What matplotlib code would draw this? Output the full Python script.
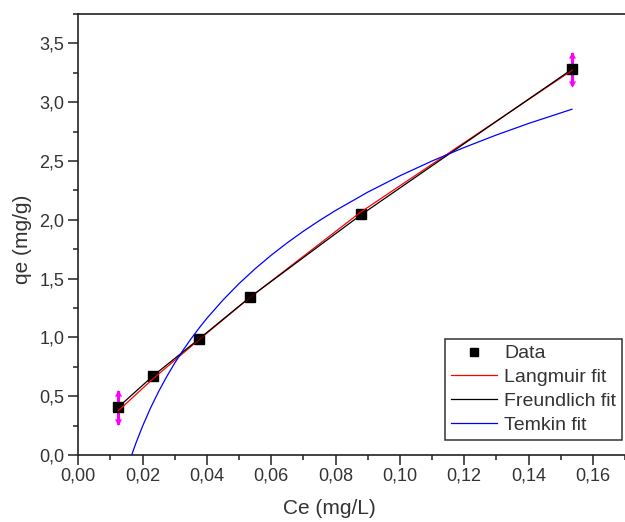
import numpy as np
import matplotlib
matplotlib.use('Agg')
import matplotlib.pyplot as plt
from matplotlib.ticker import MultipleLocator, FuncFormatter

plt.rcParams['font.family'] = ['Liberation Sans', 'DejaVu Sans']

# measured data
ce = [0.0124, 0.0231, 0.0375, 0.0534, 0.0878, 0.1536]
qe = [0.406, 0.669, 0.986, 1.346, 2.049, 3.282]
qe_err = [0.16, 0, 0, 0, 0, 0.16]

# fit curves
langmuir = [0.375, 0.645, 0.980, 1.340, 2.065, 3.272]
freundlich = [0.406, 0.669, 0.986, 1.342, 2.040, 3.282]

ce_temkin = [0.0166, 0.018, 0.020, 0.0225, 0.025, 0.0275, 0.030, 0.0325,
             0.035, 0.0375, 0.040, 0.045, 0.050, 0.055, 0.060, 0.065, 0.070,
             0.075, 0.080, 0.090, 0.100, 0.110, 0.120, 0.130, 0.140, 0.1535]
temkin = [0.0, 0.107, 0.246, 0.402, 0.541, 0.667, 0.782, 0.888,
          0.986, 1.077, 1.163, 1.318, 1.458, 1.584, 1.699, 1.805, 1.903,
          1.994, 2.079, 2.235, 2.374, 2.500, 2.615, 2.721, 2.819, 2.940]

fig = plt.figure(figsize=(6.25, 5.22), dpi=100)
ax = fig.add_axes([0.1253, 0.1284, 0.8747, 0.8448])

# error bars (only first and last point)
for x, y, e in zip(ce, qe, qe_err):
    if e > 0:
        ax.plot([x, x], [y - e + 0.03, y + e - 0.03], color='#ff00ff', lw=2.2, zorder=2)
        ax.plot(x, y + e - 0.045, marker=(3, 0, 0), ms=6, mew=0, color='#ff00ff', zorder=2)
        ax.plot(x, y - e + 0.045, marker=(3, 0, 180), ms=6, mew=0, color='#ff00ff', zorder=2)

ax.plot(ce, qe, 's', color='black', ms=7, label='Data', zorder=3)
ax.plot(ce, langmuir, '-', color='red', lw=0.9, label='Langmuir fit', zorder=4)
ax.plot(ce, freundlich, '-', color='black', lw=0.9, label='Freundlich fit', zorder=4)
ax.plot(ce_temkin, temkin, '-', color='blue', lw=0.9, label='Temkin fit', zorder=4)

ax.set_xlim(0, 0.170)
ax.set_ylim(0, 3.75)

ax.xaxis.set_major_locator(MultipleLocator(0.02))
ax.xaxis.set_minor_locator(MultipleLocator(0.01))
ax.yaxis.set_major_locator(MultipleLocator(0.5))
ax.yaxis.set_minor_locator(MultipleLocator(0.25))
ax.xaxis.set_major_formatter(FuncFormatter(lambda v, p: ('%.2f' % v).replace('.', ',')))
ax.yaxis.set_major_formatter(FuncFormatter(lambda v, p: ('%.1f' % v).replace('.', ',')))

ax.tick_params(which='both', direction='out', top=False, right=False, width=1.1,
               labelsize=13, color='#222222', labelcolor='#333333')
ax.tick_params(which='major', length=7)
ax.tick_params(which='minor', length=3.5)
ax.tick_params(axis='x', pad=2)
ax.tick_params(axis='y', pad=3)

for s in ['left', 'bottom', 'top']:
    ax.spines[s].set_linewidth(1.2)
    ax.spines[s].set_color('#222222')
ax.spines['right'].set_visible(False)

ax.set_xlabel('Ce (mg/L)', fontsize=15, color='#333333')
ax.set_ylabel('qe (mg/g)', fontsize=15, color='#333333')
ax.xaxis.set_label_coords(0.460, -0.10)
ax.yaxis.set_label_coords(-0.085, 0.49)

leg = ax.legend(loc='upper right', bbox_to_anchor=(622 / 625, 1 - 339 / 522),
                bbox_transform=fig.transFigure, borderaxespad=0, fontsize=14,
                frameon=True, fancybox=False, handlelength=2.4, handletextpad=0.35,
                labelspacing=0.32, borderpad=0.3, markerscale=0.8)
leg.get_frame().set_edgecolor('black')
leg.get_frame().set_linewidth(1.1)
for t in leg.get_texts():
    t.set_color('#333333')

fig.savefig('out.png', dpi=100)
